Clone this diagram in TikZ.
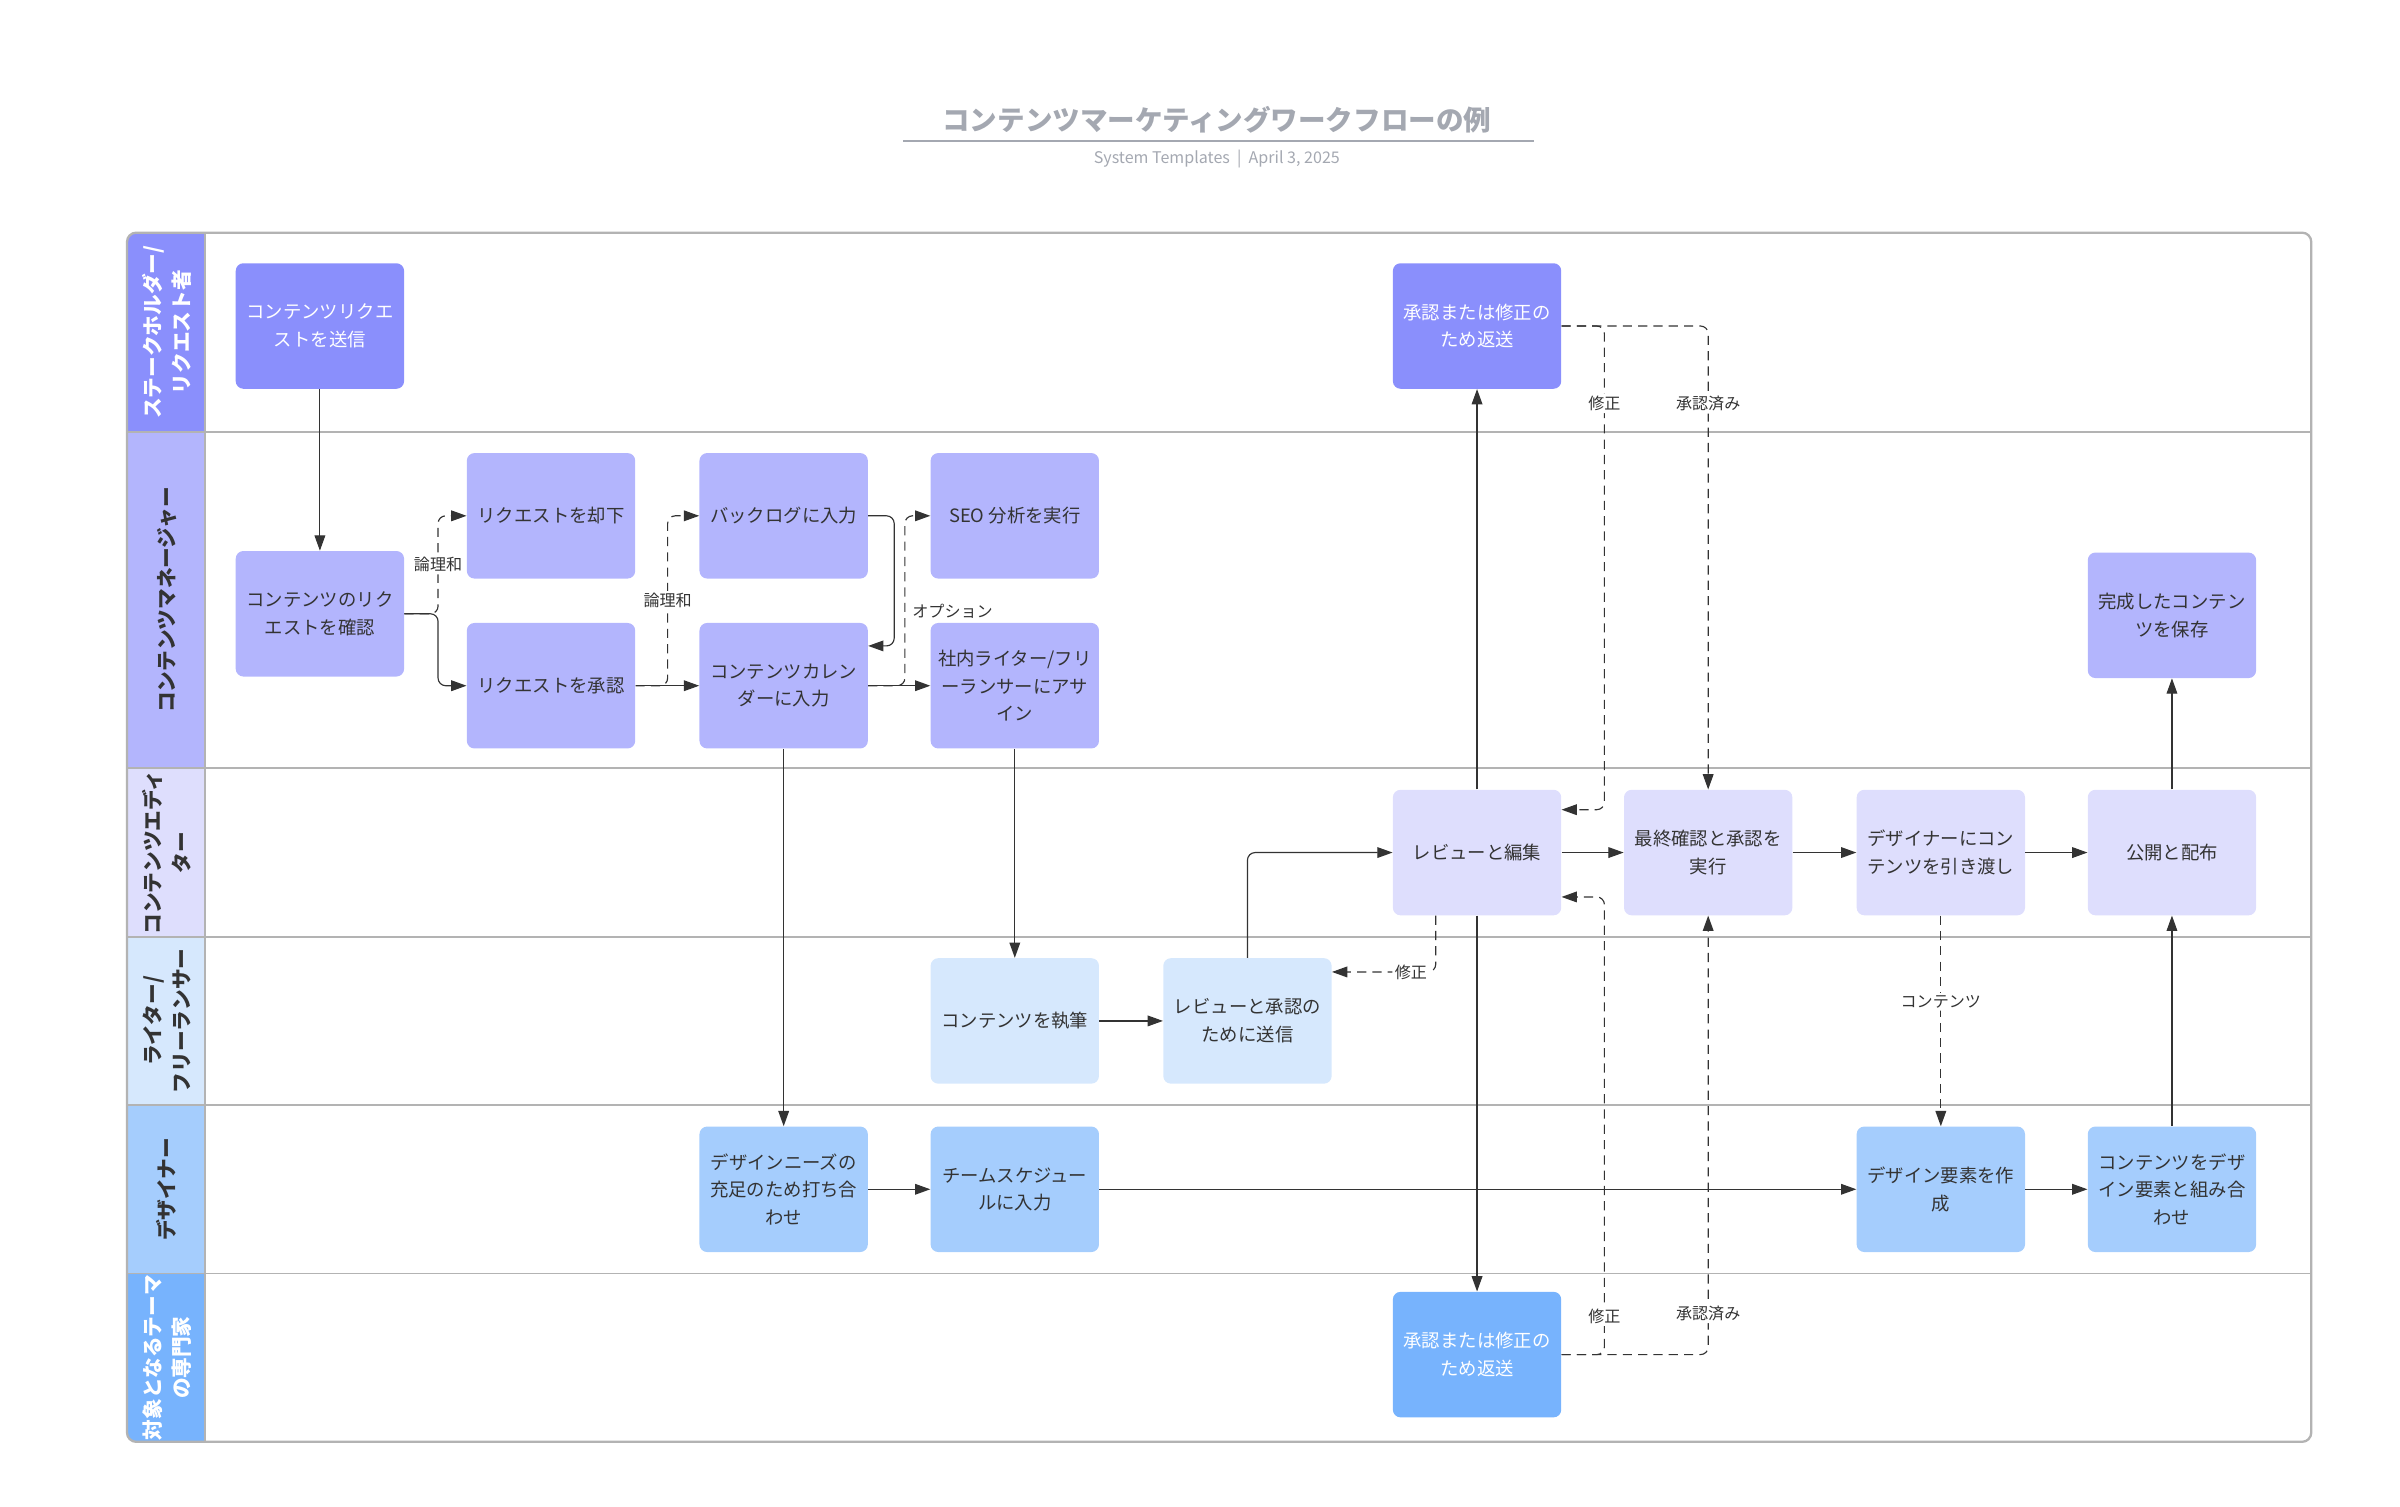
\documentclass[tikz,border=0pt]{standalone}
\usepackage{fontspec}
\setmainfont{Noto Sans CJK JP}
\usetikzlibrary{arrows.meta,calc}
\definecolor{laneA}{HTML}{8A8FFC}
\definecolor{laneB}{HTML}{B3B5FD}
\definecolor{laneC}{HTML}{DEDEFD}
\definecolor{laneD}{HTML}{D6E8FD}
\definecolor{laneE}{HTML}{A5CDFD}
\definecolor{laneF}{HTML}{77B3FD}
\definecolor{ink}{HTML}{333333}
\definecolor{framegray}{HTML}{B3B3B3}
\definecolor{titlegray}{HTML}{A4A8B1}
\begin{document}
\begin{tikzpicture}[x=1pt,y=-1pt,
  procbox/.style={rounded corners=5pt, minimum width=110pt, minimum height=82pt, align=center,
    font=\fontsize{12}{18}\selectfont, text=ink, inner sep=2pt},
  lanelabel/.style={rotate=90, align=center, font=\bfseries\fontsize{13.5}{19}\selectfont, text=ink},
  flow/.style={draw=ink, line width=0.75pt, -{Triangle[length=10pt,width=7pt]}, rounded corners=5pt},
  alt/.style={flow, dash pattern=on 6pt off 4pt},
  lbl/.style={font=\fontsize{10.5}{12}\selectfont, text=ink, fill=white, inner sep=1.5pt},
  sep/.style={draw=framegray, line width=1.2pt}
]
\useasboundingbox (0,0) rectangle (1568,984);
% title
\node[font=\bfseries\fontsize{18}{22}\selectfont, text=titlegray] (title) at (795,78) {コンテンツマーケティングワークフローの例};
\draw[titlegray, line width=1.2pt] (590,92) -- (1002,92);
\node[font=\fontsize{10.5}{12}\selectfont, text=titlegray] (sub) at (795,104) {System Templates \ \textbar\ \ April 3, 2025};
% lanes
\begin{scope}
\clip[rounded corners=6pt] (83,152) rectangle (1510,942);
\fill[laneA] (83,152) rectangle (134,282);
\fill[laneB] (83,282) rectangle (134,502);
\fill[laneC] (83,502) rectangle (134,612);
\fill[laneD] (83,612) rectangle (134,722);
\fill[laneE] (83,722) rectangle (134,832);
\fill[laneF] (83,832) rectangle (134,942);
\end{scope}
\draw[sep] (83,282) -- (1510,282);
\draw[sep] (83,502) -- (1510,502);
\draw[sep] (83,612) -- (1510,612);
\draw[sep] (83,722) -- (1510,722);
\draw[sep] (83,832) -- (1510,832);
\draw[draw=framegray, line width=1.5pt] (134,152) -- (134,942);
\draw[draw=framegray, line width=1.5pt, rounded corners=6pt] (83,152) rectangle (1510,942);
\node[lanelabel, text=white] (hA) at (109,217) {ステークホルダー/\\リクエスト者};
\node[lanelabel] (hB) at (109,392) {コンテンツマネージャー};
\node[lanelabel] (hC) at (109,557) {コンテンツエディ\\ター};
\node[lanelabel] (hD) at (109,667) {ライター/\\フリーランサー};
\node[lanelabel] (hE) at (109,777) {デザイナー};
\node[lanelabel, text=white] (hF) at (109,887) {対象となるテーマ\\の専門家};
% nodes
\node[procbox, fill=laneA, text=white] (A) at (209,213) {コンテンツリクエ\\ストを送信};
\node[procbox, fill=laneB] (B) at (209,401) {コンテンツのリク\\エストを確認};
\node[procbox, fill=laneB] (C) at (360,337) {リクエストを却下};
\node[procbox, fill=laneB] (D) at (360,448) {リクエストを承認};
\node[procbox, fill=laneB] (E) at (512,337) {バックログに入力};
\node[procbox, fill=laneB] (F) at (512,448) {コンテンツカレン\\ダーに入力};
\node[procbox, fill=laneB] (G) at (663,337) {SEO 分析を実行};
\node[procbox, fill=laneB] (H) at (663,448) {社内ライター/フリ\\ーランサーにアサ\\イン};
\node[procbox, fill=laneA, text=white] (I) at (965,213) {承認または修正の\\ため返送};
\node[procbox, fill=laneC] (J) at (965,557) {レビューと編集};
\node[procbox, fill=laneC] (K) at (1116,557) {最終確認と承認を\\実行};
\node[procbox, fill=laneC] (L) at (1268,557) {デザイナーにコン\\テンツを引き渡し};
\node[procbox, fill=laneC] (M) at (1419,557) {公開と配布};
\node[procbox, fill=laneB] (N) at (1419,402) {完成したコンテン\\ツを保存};
\node[procbox, fill=laneD] (O) at (663,667) {コンテンツを執筆};
\node[procbox, fill=laneD] (P) at (815,667) {レビューと承認の\\ために送信};
\node[procbox, fill=laneE] (Q) at (512,777) {デザインニーズの\\充足のため打ち合\\わせ};
\node[procbox, fill=laneE] (R) at (663,777) {チームスケジュー\\ルに入力};
\node[procbox, fill=laneE] (S) at (1268,777) {デザイン要素を作\\成};
\node[procbox, fill=laneE] (T) at (1419,777) {コンテンツをデザ\\イン要素と組み合\\わせ};
\node[procbox, fill=laneF, text=white] (U) at (965,885) {承認または修正の\\ため返送};
% connectors
\draw[flow] (A) -- (B);
\draw[alt] (B.east) -- ++(22,0) |- node[lbl,pos=0.25] (l1) {論理和} (C.west);
\draw[flow] (B.east) -- ++(22,0) |- (D.west);
\draw[alt] (D.east) -- ++(21,0) |- node[lbl,pos=0.25] (l2) {論理和} (E.west);
\draw[flow] (D) -- (F);
\draw[flow] (E.east) -- ++(17,0) |- ([yshift=26pt]F.east);
\draw[alt] (F.east) -- ++(24,0) |- node[lbl,pos=0.22,anchor=west,fill=none,xshift=3pt] (l3) {オプション} (G.west);
\draw[flow] (F) -- (H);
\draw[flow] (F) -- (Q);
\draw[flow] (H) -- (O);
\draw[flow] (O) -- (P);
\draw[flow] (P.north) |- (J.west);
\draw[flow] (J) -- (I);
\draw[flow] (J) -- (U);
\draw[alt] ([xshift=-27pt]J.south) |- node[lbl,pos=0.62] (l4) {修正} ([yshift=32pt]P.east);
\draw[alt] (I.east) -- ++(28,0) |- node[lbl,pos=0.08] (l5) {修正} ([yshift=28pt]J.east);
\draw[alt] (I.east) -| node[lbl,pos=0.584] (l6) {承認済み} (K.north);
\draw[alt] (U.east) -- ++(28,0) |- node[lbl,pos=0.042] (l7) {修正} ([yshift=-29pt]J.east);
\draw[alt] (U.east) -| node[lbl,pos=0.547] (l8) {承認済み} (K.south);
\draw[flow] (J) -- (K);
\draw[flow] (K) -- (L);
\draw[flow] (L) -- (M);
\draw[alt] (L) -- node[lbl,pos=0.41] (l9) {コンテンツ} (S);
\draw[flow] (Q) -- (R);
\draw[flow] (R) -- (S);
\draw[flow] (S) -- (T);
\draw[flow] (T) -- (M);
\draw[flow] (M) -- (N);
\end{tikzpicture}
\end{document}
